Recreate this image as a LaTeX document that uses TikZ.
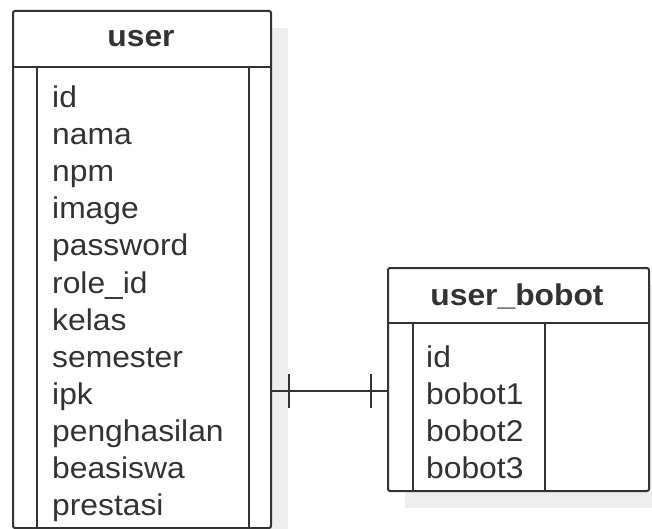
\documentclass[tikz,border=0pt]{standalone}
\usepackage{fontspec}
\setmainfont{Liberation Sans}
\definecolor{linec}{HTML}{333333}
\definecolor{textc}{HTML}{333333}
\definecolor{shadowc}{HTML}{EEEEEE}
\newcommand{\wtxt}[1]{\scalebox{1.06}[1]{#1}}
\begin{document}
\begin{tikzpicture}[x=1bp,y=-1bp,
  tbl/.style={draw=linec, line width=2bp, rounded corners=2bp, fill=white, inner sep=0pt, anchor=north west},
  shade/.style={fill=shadowc, draw=none},
  sep/.style={draw=linec, line width=2bp},
  row/.style={anchor=base west, inner sep=0pt, text=textc, font=\fontsize{30bp}{37bp}\selectfont},
  head/.style={anchor=base, inner sep=0pt, text=textc, font=\bfseries\fontsize{30bp}{37bp}\selectfont},
  conn/.style={draw=linec, line width=2bp}]
\useasboundingbox (0,0) rectangle (652,529);
% shadows
\fill[shade] (30,28) rectangle (288,545);
\fill[shade] (405,285) rectangle (666,508);
% user table
\node[tbl, minimum width=258bp, minimum height=517bp] (user) at (12,10) {};
\draw[sep] (12,67) -- (270,67);
\draw[sep] (37,67) -- (37,527);
\draw[sep] (249,67) -- (249,527);
\node[head] (userh) at (141,47) {\wtxt{user}};
\foreach \t [count=\i from 0] in {id,nama,npm,image,password,role\_id,kelas,semester,ipk,penghasilan,beasiswa,prestasi}
  \node[row] (u\i) at (52,108+37*\i) {\wtxt{\t}};
% user_bobot table
\node[tbl, minimum width=261bp, minimum height=223bp] (ub) at (387,267) {};
\draw[sep] (387,323) -- (648,323);
\draw[sep] (413,323) -- (413,490);
\draw[sep] (545,323) -- (545,490);
\node[head] (ubh) at (517,305) {\wtxt{user\_bobot}};
\foreach \t [count=\i from 0] in {id,bobot1,bobot2,bobot3}
  \node[row] (b\i) at (426,367+37*\i) {\wtxt{\t}};
% relationship
\coordinate (rel) at (0,391);
\draw[conn] (user.east |- rel) -- (ub.west |- rel);
\coordinate (t1) at (289,391);
\coordinate (t2) at (371,391);
\draw[conn] ([yshift=17bp]t1) -- ([yshift=-17bp]t1);
\draw[conn] ([yshift=17bp]t2) -- ([yshift=-17bp]t2);
\end{tikzpicture}
\end{document}
